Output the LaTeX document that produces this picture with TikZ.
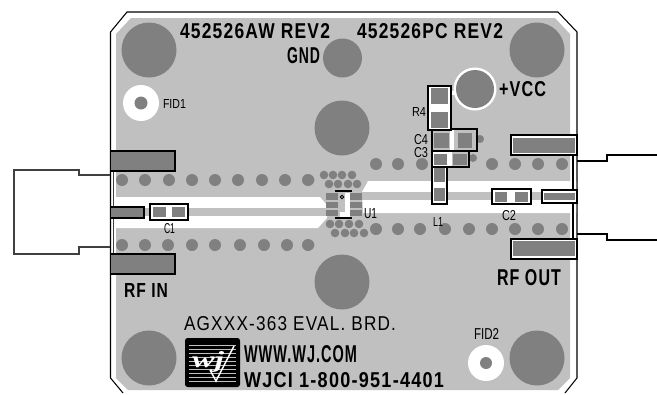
\documentclass[tikz,border=0pt]{standalone}
\usepackage{fontspec}
\usepackage{graphicx}
\setmainfont[LetterSpace=7]{Liberation Sans}
\newfontfamily\thinfont{Liberation Sans}
\newfontfamily\logofont{Liberation Serif}
\definecolor{boardgrey}{HTML}{C0C0C0}
\definecolor{copper}{HTML}{808080}
% name, left, top, right, bottom, font, text
\newcommand{\lbl}[7]{%
  \pgfmathsetmacro{\lblw}{(#4-#2)*0.75}%
  \pgfmathsetmacro{\lblh}{(#5-#3)*0.75}%
  \node[txt] (#1) at (#2,#5) {\resizebox{\lblw pt}{\lblh pt}{#6#7}};}
\newcommand{\holes}[2]{\foreach \hx/\hy in {#2} \fill[copper] (\hx,\hy) circle[radius=#1];}
\tikzset{
  txt/.style={anchor=south west,inner sep=0pt,outer sep=0pt,text=black},
  edge/.style={draw=black,line width=0.8pt},
  conn/.style={draw=black!75,line width=0.8pt},
  padc/.style={fill=copper},
  boxed/.style={draw=black,line width=0.8pt,fill=white},
  conpad/.style={draw=black,line width=0.8pt,fill=copper},
}
\begin{document}
\begin{tikzpicture}[x=0.75pt,y=-0.75pt]
\useasboundingbox (0,0) rectangle (657,394);
% board
\fill[boardgrey] (116,34) -- (131,18) -- (555,18) -- (570,34) -- (570,378) -- (558,390) -- (128,390) -- (116,378) -- cycle;
\draw[edge] (123,393) -- (110.5,378) -- (110.5,32) -- (127,12) -- (558,12) -- (577,32) -- (577,378) -- (565,393);
% white channels
\fill[white] (112,197) -- (320,197) -- (327,205) -- (327,218) -- (318,228) -- (112,228) -- cycle;
\fill[white] (368,181) -- (576,181) -- (576,213) -- (363,213) -- (362,192) -- cycle;
\fill[boardgrey] (144,208) rectangle (328,216);
\fill[boardgrey] (360,192) rectangle (542,200);
% rows of holes
\holes{6}{122/180,145/180,169/180,192/180,215/180,238/180,262/180,285/180,308/180,
 122/245,145/245,168/245,192/245,215/245,240/245,264/245,287/245,308/245,
 376/164,398/164,422/164,492/164,515/164,538/164,562/164,
 376/229,398/229,420/229,445/229,469/229,492/229,515/229,538/229,562/229}
\holes{4}{480/139,473/158}
\holes{4.3}{324/175,333/175,342/175,352/175,329/184,338/184,348/184,357/184,
 330/224,339/224,349/224,359/224,335/233,345/233,354/233,364/233}
\holes{5.5}{309/180,309/245}
% large holes
\holes{27.5}{149/50,537/50,149/358,537/358,342/128,342/282}
\holes{19.5}{342.5/58}
\fill[white] (451,91) rectangle (462,95);
\fill[white] (475,89) circle[radius=21.5];
\holes{19}{475/89}
% fiducials
\fill[white] (141,103) circle[radius=18];
\holes{6.5}{141/103}
\fill[white] (486,363) circle[radius=18];
\holes{6}{486/363}
% connector outlines
\draw[conn] (110,175) -- (79,175) -- (79,170) -- (14,170) -- (14,254) -- (79,254) -- (79,247) -- (110,247);
\draw[conn] (113.5,171) -- (113.5,207);
\draw[conn] (113.5,218) -- (113.5,254);
\draw[edge] (577,161) -- (607,161) -- (607,155) -- (657,155);
\draw[edge] (577,234) -- (607,234) -- (607,240) -- (657,240);
\draw[edge] (573,155) -- (573,190);
\draw[edge] (573,203) -- (573,239);
% launch pads
\draw[conpad] (110.5,151) rectangle (175,171);
\draw[conpad] (110.5,254) rectangle (175,274);
\draw[conpad] (110.5,207) rectangle (144,218);
\draw[boxed] (511,135) rectangle (577,155);
\fill[padc] (513,138) rectangle (575,153);
\draw[boxed] (511,239) rectangle (577,259);
\fill[padc] (513,241) rectangle (575,256);
\draw[boxed] (542,190) rectangle (577,203);
\fill[padc] (544,193) rectangle (575,200);
% parts
\draw[boxed] (150,204) rectangle (188,220);
\fill[padc] (153,207) rectangle (166,217);
\fill[padc] (172,207) rectangle (185,217);
\draw[boxed] (492,189) rectangle (531,204);
\fill[padc] (495,192) rectangle (507,202);
\fill[padc] (515,192) rectangle (528,202);
\draw[boxed] (432,167) rectangle (447,204);
\fill[padc] (434,168) rectangle (445,182);
\fill[padc] (434,188) rectangle (445,201);
\draw[edge,fill=boardgrey] (432,151) rectangle (469,167);
\fill[white] (433,152) rectangle (452,166);
\fill[padc] (434,154) rectangle (447,165);
\fill[padc] (453,154) rectangle (467,165);
\draw[edge,fill=boardgrey] (432,129) rectangle (477,151);
\fill[white] (450,130) rectangle (454,150);
\fill[padc] (434,133) rectangle (449,148);
\fill[padc] (458,133) rectangle (472,148);
\draw[boxed] (428,86) rectangle (451,130);
\fill[padc] (431,88) rectangle (448,104);
\fill[padc] (431,112) rectangle (448,128);
% U1
\fill[white] (345,193) rectangle (350,212);
\fill[white] (340,212) rectangle (350,218);
\foreach \py/\pb in {193/200,202/208,210/216}{
  \fill[padc] (326,\py) rectangle (338,\pb);
  \fill[padc] (350,\py) rectangle (362,\pb);
}
\draw[edge] (335,191) -- (352,191);
\draw[edge] (335,218) -- (352,218);
\draw[black,line width=0.6pt] (342,197) circle[radius=1.8];
% logo
\fill[black,rounded corners=2pt] (185,338) rectangle (240,387);
\foreach \ly in {345,349,...,381} \draw[boardgrey,line width=0.5pt] (189,\ly) -- (236,\ly);
\node[txt,text=white] (logotext) at (192,372) {\resizebox{24pt}{12pt}{\logofont\itshape\bfseries wj}};
\draw[white,line width=1.1pt] (210,370) -- (216,381) -- (234,346);
% texts
\lbl{partA}{180}{24}{330}{39}{\bfseries}{452526AW REV2}
\lbl{partB}{357}{24}{503}{39}{\bfseries}{452526PC REV2}
\lbl{gnd}{287}{48}{320}{64}{\bfseries}{GND}
\lbl{vcc}{499}{82}{546}{97}{\bfseries}{+VCC}
\lbl{fidA}{163}{99}{186}{108}{\thinfont}{FID1}
\lbl{rfour}{412}{107}{426}{116}{\thinfont}{R4}
\lbl{cfour}{414}{135}{428}{145}{\thinfont}{C4}
\lbl{cthree}{414}{148}{428}{158}{\thinfont}{C3}
\lbl{lone}{433}{217}{443}{226}{\thinfont}{L1}
\lbl{ctwo}{502}{211}{516}{221}{\thinfont}{C2}
\lbl{uone}{364}{209}{377}{219}{\thinfont}{U1}
\lbl{cone}{164}{224}{175}{234}{\thinfont}{C1}
\lbl{rfin}{124}{283}{168}{297}{\bfseries}{RF IN}
\lbl{rfout}{497}{270}{561}{286}{\bfseries}{RF OUT}
\lbl{evalb}{184}{317}{396}{331}{}{AGXXX-363 EVAL. BRD.}
\lbl{www}{244}{346}{357}{363}{\bfseries}{WWW.WJ.COM}
\lbl{phone}{244}{373}{444}{388}{\bfseries}{WJCI 1-800-951-4401}
\lbl{fidB}{474}{328}{499}{339}{\thinfont}{FID2}
\end{tikzpicture}
\end{document}
